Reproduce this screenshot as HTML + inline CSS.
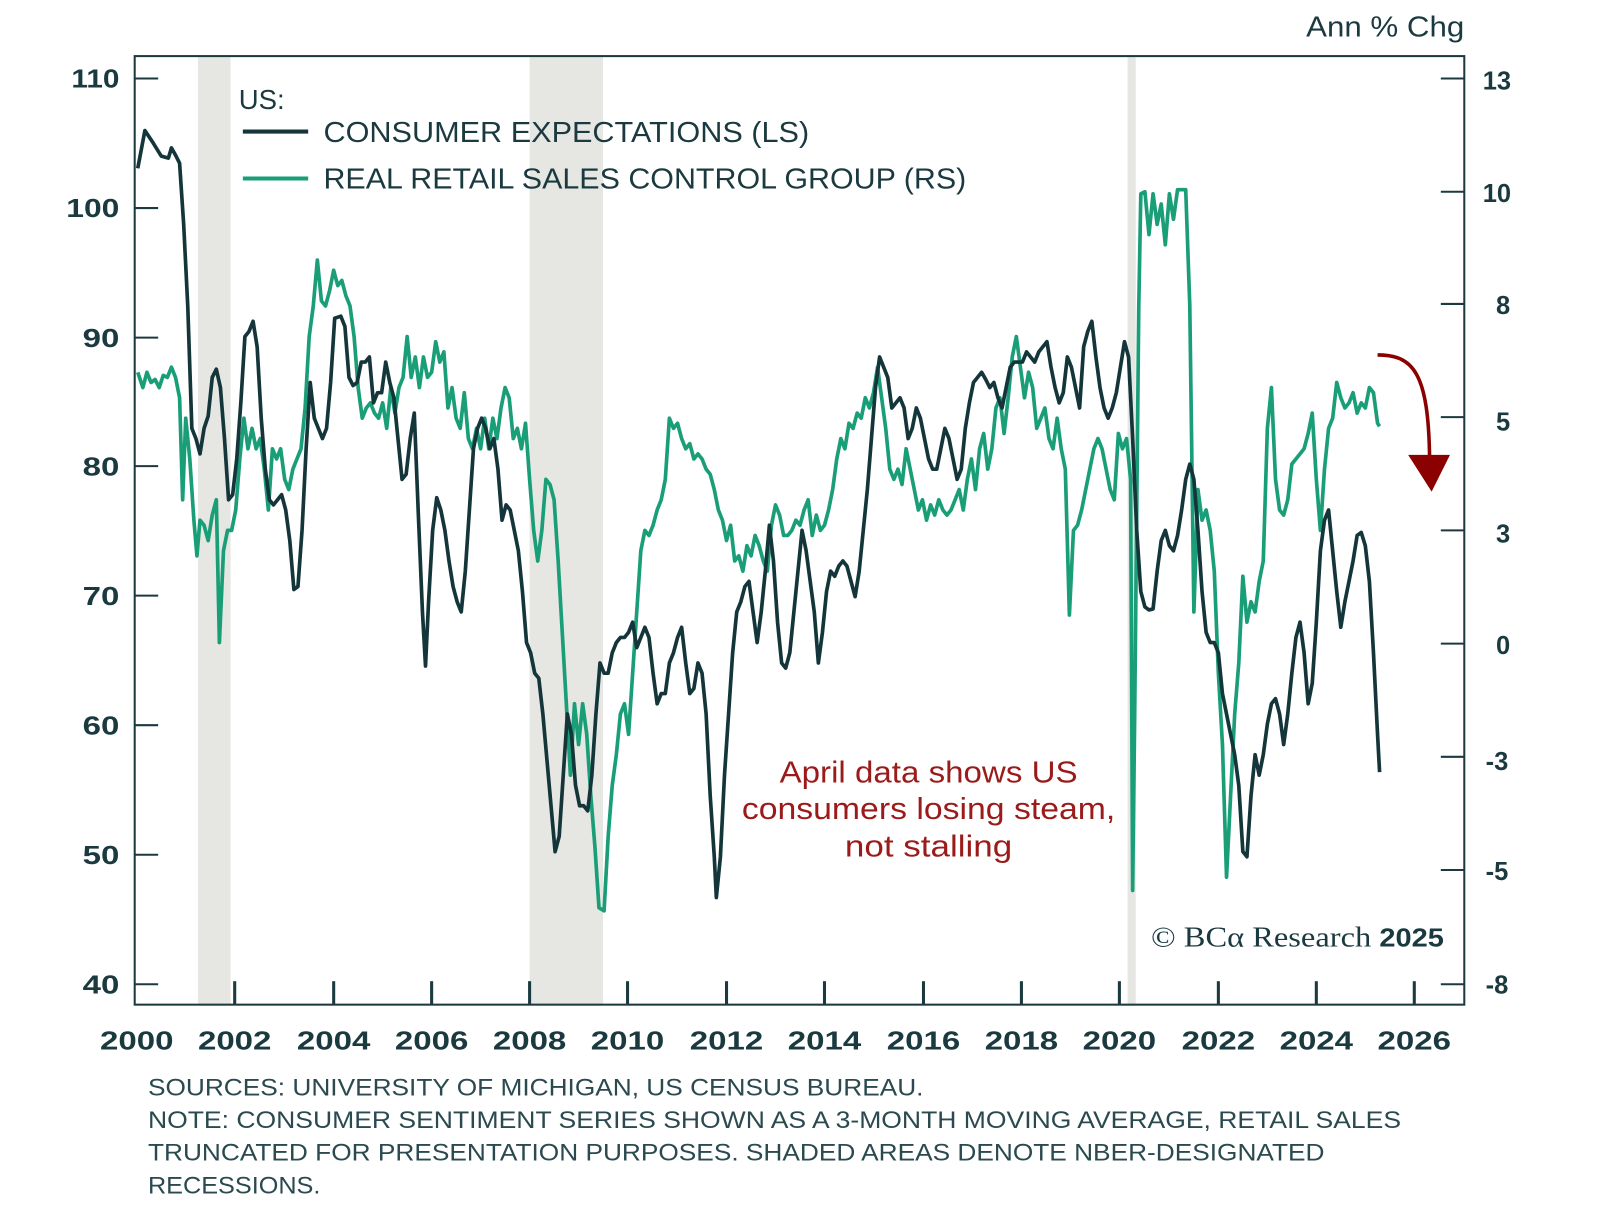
<!DOCTYPE html>
<html><head><meta charset="utf-8"><style>html,body{margin:0;padding:0;background:#fff}svg{display:block}</style></head>
<body>
<svg width="1600" height="1227" viewBox="0 0 1568 1203" preserveAspectRatio="none" xmlns="http://www.w3.org/2000/svg" font-family="Liberation Sans, sans-serif">
<rect x="0" y="0" width="1568" height="1203" fill="#fff"/>
<g fill="#e6e6e2">
<rect x="194" y="56" width="32" height="929"/>
<rect x="519" y="56" width="72" height="929"/>
<rect x="1105" y="56" width="8" height="929"/>
</g>
<rect x="132" y="55" width="1303" height="930" fill="none" stroke="#1b3a40" stroke-width="2"/>
<g stroke="#1b3a40" stroke-width="2">
<line x1="132" y1="77" x2="155" y2="77"/><line x1="132" y1="204" x2="155" y2="204"/><line x1="132" y1="331" x2="155" y2="331"/><line x1="132" y1="457" x2="155" y2="457"/><line x1="132" y1="584" x2="155" y2="584"/><line x1="132" y1="711" x2="155" y2="711"/><line x1="132" y1="838" x2="155" y2="838"/><line x1="132" y1="965" x2="155" y2="965"/>
<line x1="1412" y1="77" x2="1435" y2="77"/><line x1="1412" y1="188" x2="1435" y2="188"/><line x1="1412" y1="298" x2="1435" y2="298"/><line x1="1412" y1="409" x2="1435" y2="409"/><line x1="1412" y1="520" x2="1435" y2="520"/><line x1="1412" y1="631" x2="1435" y2="631"/><line x1="1412" y1="742" x2="1435" y2="742"/><line x1="1412" y1="853" x2="1435" y2="853"/><line x1="1412" y1="965" x2="1435" y2="965"/>
</g>
<g stroke="#1b3a40" stroke-width="3">
<line x1="230" y1="962" x2="230" y2="985"/><line x1="327" y1="962" x2="327" y2="985"/><line x1="423" y1="962" x2="423" y2="985"/><line x1="519" y1="962" x2="519" y2="985"/><line x1="615" y1="962" x2="615" y2="985"/><line x1="712" y1="962" x2="712" y2="985"/><line x1="808" y1="962" x2="808" y2="985"/><line x1="905" y1="962" x2="905" y2="985"/><line x1="1001" y1="962" x2="1001" y2="985"/><line x1="1097" y1="962" x2="1097" y2="985"/><line x1="1194" y1="962" x2="1194" y2="985"/><line x1="1290" y1="962" x2="1290" y2="985"/><line x1="1386" y1="962" x2="1386" y2="985"/>
</g>
<g fill="#1b3a40" font-size="25" font-weight="bold" text-anchor="end">
<text x="117" y="86" textLength="47" lengthAdjust="spacingAndGlyphs">110</text><text x="117" y="213" textLength="52" lengthAdjust="spacingAndGlyphs">100</text><text x="117" y="340" textLength="36" lengthAdjust="spacingAndGlyphs">90</text><text x="117" y="466" textLength="36" lengthAdjust="spacingAndGlyphs">80</text><text x="117" y="593" textLength="36" lengthAdjust="spacingAndGlyphs">70</text><text x="117" y="720" textLength="36" lengthAdjust="spacingAndGlyphs">60</text><text x="117" y="847" textLength="36" lengthAdjust="spacingAndGlyphs">50</text><text x="117" y="974" textLength="36" lengthAdjust="spacingAndGlyphs">40</text>
</g>
<g fill="#1b3a40" font-size="25" font-weight="bold" text-anchor="middle">
<text x="1467" y="88">13</text><text x="1467" y="198">10</text><text x="1473" y="308">8</text><text x="1473" y="422">5</text><text x="1473" y="532">3</text><text x="1473" y="641">0</text><text x="1467" y="755">-3</text><text x="1467" y="863">-5</text><text x="1467" y="974">-8</text>
</g>
<g fill="#1b3a40" font-size="25" font-weight="bold" text-anchor="middle">
<text x="134" y="1029" textLength="72" lengthAdjust="spacingAndGlyphs">2000</text><text x="230" y="1029" textLength="72" lengthAdjust="spacingAndGlyphs">2002</text><text x="327" y="1029" textLength="72" lengthAdjust="spacingAndGlyphs">2004</text><text x="423" y="1029" textLength="72" lengthAdjust="spacingAndGlyphs">2006</text><text x="519" y="1029" textLength="72" lengthAdjust="spacingAndGlyphs">2008</text><text x="615" y="1029" textLength="72" lengthAdjust="spacingAndGlyphs">2010</text><text x="712" y="1029" textLength="72" lengthAdjust="spacingAndGlyphs">2012</text><text x="808" y="1029" textLength="72" lengthAdjust="spacingAndGlyphs">2014</text><text x="905" y="1029" textLength="72" lengthAdjust="spacingAndGlyphs">2016</text><text x="1001" y="1029" textLength="72" lengthAdjust="spacingAndGlyphs">2018</text><text x="1097" y="1029" textLength="72" lengthAdjust="spacingAndGlyphs">2020</text><text x="1194" y="1029" textLength="72" lengthAdjust="spacingAndGlyphs">2022</text><text x="1290" y="1029" textLength="72" lengthAdjust="spacingAndGlyphs">2024</text><text x="1386" y="1029" textLength="72" lengthAdjust="spacingAndGlyphs">2026</text>
</g>
<text x="1435" y="36" text-anchor="end" fill="#1b3a40" font-size="28" textLength="155" lengthAdjust="spacingAndGlyphs">Ann % Chg</text>
<text x="234" y="107" fill="#1b3a40" font-size="27">US:</text>
<line x1="238" y1="129" x2="302" y2="129" stroke="#14363b" stroke-width="4"/>
<line x1="238" y1="175" x2="302" y2="175" stroke="#1a9e78" stroke-width="4"/>
<text x="317" y="139" fill="#1b3a40" font-size="28" textLength="476" lengthAdjust="spacingAndGlyphs">CONSUMER EXPECTATIONS (LS)</text>
<text x="317" y="185" fill="#1b3a40" font-size="28" textLength="630" lengthAdjust="spacingAndGlyphs">REAL RETAIL SALES CONTROL GROUP (RS)</text>
<polyline fill="none" stroke="#1a9e78" stroke-width="3.6" stroke-linejoin="round" points="135,365 140,380 144,365 148,375 152,372 156,380 160,368 164,370 168,360 172,370 176,390 179,490 182,410 186,450 190,510 193,545 196,510 200,515 204,530 208,505 212,490 215,630 219,540 223,520 227,520 231,500 235,450 239,410 243,440 247,420 251,440 255,430 259,460 263,500 267,440 271,450 275,440 279,470 283,480 287,460 291,450 295,440 299,400 303,330 307,300 311,255 315,295 319,300 323,285 327,265 331,280 335,275 339,290 343,300 347,330 351,380 355,410 359,400 363,395 367,405 371,410 375,395 379,420 383,380 387,405 391,380 395,370 399,330 403,370 407,350 411,380 415,350 419,370 423,365 427,335 431,355 435,345 439,400 443,380 447,410 451,420 455,385 459,430 463,440 467,420 471,440 475,410 479,440 483,410 487,430 491,400 495,380 499,390 503,430 507,420 511,440 515,415 519,470 523,520 527,550 531,520 535,470 539,475 543,490 547,550 551,620 555,690 559,760 563,690 567,730 571,690 575,720 579,780 583,830 587,890 592,893 596,820 600,770 604,740 608,700 612,690 616,720 620,660 624,600 628,540 632,520 636,525 640,515 644,500 648,490 652,470 656,410 660,420 664,415 668,430 672,440 676,435 680,450 684,445 688,450 692,460 696,465 700,480 704,500 708,510 712,530 716,515 720,550 724,545 728,560 732,535 736,545 740,525 744,535 748,550 752,560 756,515 760,495 764,505 768,525 772,525 776,520 780,510 784,515 788,500 792,490 796,525 800,505 804,520 808,515 812,500 816,480 820,450 824,430 828,440 832,415 836,420 840,405 844,410 848,390 852,400 856,385 860,360 864,390 868,420 872,460 876,470 880,460 884,475 888,440 892,460 896,480 900,500 904,490 908,510 912,495 916,505 920,490 924,500 928,505 932,500 936,490 940,480 944,500 948,470 952,450 956,480 960,440 964,425 968,460 972,440 976,400 980,390 984,425 988,390 992,350 996,330 1000,360 1004,390 1008,365 1012,380 1016,420 1020,410 1024,400 1028,430 1032,440 1036,410 1040,440 1044,460 1048,603 1052,520 1056,515 1060,500 1064,480 1068,460 1072,440 1076,430 1080,440 1084,460 1088,480 1092,490 1096,425 1100,440 1104,430 1108,470 1110,873 1112,700 1114,500 1116,300 1118,190 1122,188 1126,230 1130,190 1134,220 1138,200 1142,240 1146,190 1150,215 1154,186 1158,186 1162,186 1166,300 1170,600 1174,480 1178,510 1182,500 1186,520 1190,560 1194,660 1198,730 1202,860 1206,780 1210,700 1214,650 1218,565 1222,610 1226,590 1230,600 1234,570 1238,550 1242,420 1246,380 1250,470 1254,500 1258,505 1262,490 1266,455 1270,450 1274,445 1278,440 1282,425 1286,405 1290,470 1294,520 1298,460 1302,420 1306,410 1310,375 1314,390 1318,400 1322,395 1326,385 1330,405 1334,395 1338,400 1342,380 1346,385 1350,415 1352,418"/>
<polyline fill="none" stroke="#14363b" stroke-width="3.6" stroke-linejoin="round" points="135,165 142,128 150,140 158,153 165,155 168,145 172,152 176,160 180,220 184,300 188,420 192,430 196,445 200,420 204,408 208,370 212,362 216,380 220,430 224,490 228,485 232,450 236,395 240,330 244,325 248,315 252,340 256,410 260,460 264,490 268,495 272,490 276,485 280,500 284,530 288,578 292,575 296,520 300,440 304,375 308,410 312,420 316,430 320,420 324,375 328,312 334,310 338,320 342,370 346,378 350,375 354,355 358,355 362,350 366,395 370,385 374,385 378,355 382,375 386,390 390,430 394,470 398,465 402,430 406,405 410,505 414,600 417,653 420,590 424,520 428,488 432,500 436,520 440,550 444,575 448,590 452,600 456,560 460,500 464,440 468,420 472,410 476,420 480,440 484,430 488,460 492,510 496,495 500,500 504,520 508,540 512,580 516,630 520,640 524,660 528,665 532,700 536,745 540,790 544,835 548,820 552,760 556,700 560,720 564,770 568,790 572,790 576,795 580,760 584,700 588,650 592,660 596,660 600,640 604,630 608,625 612,625 616,620 620,610 624,635 628,625 632,615 636,625 640,660 644,690 648,680 652,680 656,650 660,640 664,625 668,615 672,650 676,680 680,675 684,650 688,660 692,700 696,780 700,840 702,880 706,840 710,760 714,700 718,640 722,600 726,590 730,575 734,570 738,600 742,630 746,600 750,560 754,515 758,550 762,610 766,650 770,655 774,640 778,600 782,560 786,520 790,540 794,570 798,600 802,650 806,620 810,580 814,560 818,565 822,555 826,550 830,555 834,570 838,585 842,560 846,520 850,480 854,430 858,380 862,350 866,360 870,370 874,400 878,395 882,390 886,400 890,430 894,420 898,400 902,410 906,430 910,450 914,460 918,460 922,440 926,420 930,430 934,450 938,470 942,460 946,420 950,395 954,375 958,370 962,365 966,372 970,380 974,375 978,390 982,400 986,380 990,360 994,355 998,355 1002,355 1006,345 1010,350 1014,355 1018,345 1022,340 1026,335 1030,360 1034,380 1038,395 1042,385 1046,350 1050,360 1054,380 1058,400 1062,340 1066,325 1070,315 1074,350 1078,380 1082,400 1086,410 1090,400 1094,385 1098,360 1102,335 1106,350 1110,430 1114,520 1118,580 1122,595 1126,598 1130,597 1134,560 1138,530 1142,520 1146,535 1150,540 1154,525 1158,500 1162,470 1166,455 1170,470 1174,520 1178,580 1182,620 1186,630 1190,630 1194,640 1198,680 1202,700 1206,720 1210,740 1214,770 1218,835 1222,840 1226,780 1230,740 1234,760 1238,740 1242,710 1246,690 1250,685 1254,700 1258,730 1262,700 1266,660 1270,625 1274,610 1278,640 1282,690 1286,670 1290,610 1294,540 1298,510 1302,500 1306,540 1310,580 1314,615 1318,590 1322,570 1326,550 1330,525 1334,522 1338,535 1342,570 1346,640 1350,720 1352,757"/>
<path d="M1350,348 C1385,348 1400,365 1401,450" fill="none" stroke="#8b0000" stroke-width="3.5"/>
<polygon points="1380,446 1421,446 1403,482" fill="#8b0000"/>
<g fill="#9b1b1b" font-size="30" text-anchor="middle">
<text x="910" y="767" textLength="292" lengthAdjust="spacingAndGlyphs">April data shows US</text>
<text x="910" y="803" textLength="366" lengthAdjust="spacingAndGlyphs">consumers losing steam,</text>
<text x="910" y="840" textLength="164" lengthAdjust="spacingAndGlyphs">not stalling</text>
</g>
<text x="1128" y="928" fill="#1b3a40" font-family="Liberation Serif, serif" font-size="28" textLength="287" lengthAdjust="spacingAndGlyphs">© BCα Research <tspan font-family="Liberation Sans, sans-serif" font-weight="bold" font-size="25">2025</tspan></text>
<g fill="#2a4a50" font-size="24">
<text x="145" y="1074" textLength="760" lengthAdjust="spacingAndGlyphs">SOURCES: UNIVERSITY OF MICHIGAN, US CENSUS BUREAU.</text>
<text x="145" y="1106" textLength="1228" lengthAdjust="spacingAndGlyphs">NOTE: CONSUMER SENTIMENT SERIES SHOWN AS A 3-MONTH MOVING AVERAGE, RETAIL SALES</text>
<text x="145" y="1138" textLength="1153" lengthAdjust="spacingAndGlyphs">TRUNCATED FOR PRESENTATION PURPOSES. SHADED AREAS DENOTE NBER-DESIGNATED</text>
<text x="145" y="1170" textLength="169" lengthAdjust="spacingAndGlyphs">RECESSIONS.</text>
</g>
</svg>
</body></html>
